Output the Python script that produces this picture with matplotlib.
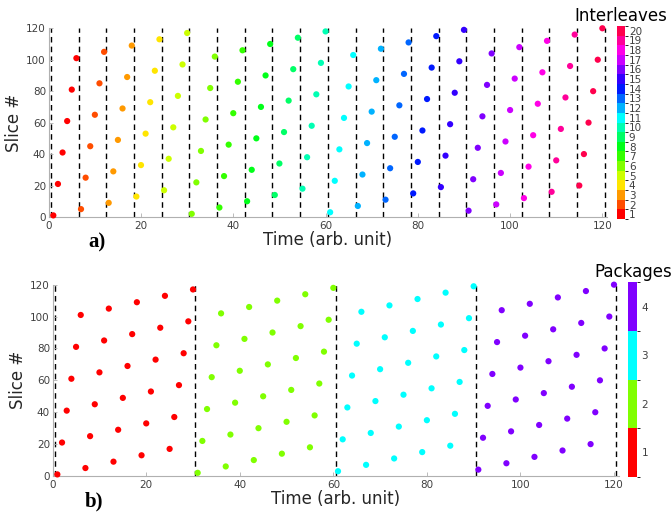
import colorsys
import numpy as np
import matplotlib
matplotlib.use("Agg")
import matplotlib.pyplot as plt
from matplotlib.colors import ListedColormap, BoundaryNorm
from matplotlib.cm import ScalarMappable

# slice numbers acquired in each interleave (6 consecutive time steps per interleave)
interleave_slices = [
    [1, 21, 41, 61, 81, 101],
    [5, 25, 45, 65, 85, 105],
    [9, 29, 49, 69, 89, 109],
    [13, 33, 53, 73, 93, 113],
    [17, 37, 57, 77, 97, 117],
    [2, 22, 42, 62, 82, 102],
    [6, 26, 46, 66, 86, 106],
    [10, 30, 50, 70, 90, 110],
    [14, 34, 54, 74, 94, 114],
    [18, 38, 58, 78, 98, 118],
    [3, 23, 43, 63, 83, 103],
    [7, 27, 47, 67, 87, 107],
    [11, 31, 51, 71, 91, 111],
    [15, 35, 55, 75, 95, 115],
    [19, 39, 59, 79, 99, 119],
    [4, 24, 44, 64, 84, 104],
    [8, 28, 48, 68, 88, 108],
    [12, 32, 52, 72, 92, 112],
    [16, 36, 56, 76, 96, 116],
    [20, 40, 60, 80, 100, 120],
]
n_interleaves = 20
n_packages = 4
interleave_edges = [0.5, 6.5, 12.5, 18.5, 24.5, 30.5, 36.5, 42.5, 48.5, 54.5, 60.5,
                    66.5, 72.5, 78.5, 84.5, 90.5, 96.5, 102.5, 108.5, 114.5, 120.5]
package_edges = [0.5, 30.5, 60.5, 90.5, 120.5]

slices = np.array(interleave_slices).ravel()
time = np.arange(1, len(slices) + 1)
interleave = np.repeat(np.arange(1, n_interleaves + 1), 6)
package = (interleave - 1) // 5 + 1

def hsv_colors(n):
    return [colorsys.hsv_to_rgb(i / n, 1, 1) for i in range(n)]

cmap_a = ListedColormap(hsv_colors(n_interleaves))
norm_a = BoundaryNorm(np.arange(0.5, n_interleaves + 1), n_interleaves)
cmap_b = ListedColormap(hsv_colors(n_packages))
norm_b = BoundaryNorm(np.arange(0.5, n_packages + 1), n_packages)

TICK_C = "#404040"
LAB_C = "#262626"
SPINE_C = "#b0b0b0"

fig = plt.figure(figsize=(6.71, 5.16), dpi=100)
ax_a = fig.add_axes([0.0726, 0.5795, 0.832, 0.3657])
ax_b = fig.add_axes([0.0785, 0.0775, 0.8435, 0.3708])
cax_a = fig.add_axes([616.7 / 671, 1 - 219 / 516, 8 / 671, 193 / 516])
cax_b = fig.add_axes([628.3 / 671, 1 - 476.7 / 516, 9 / 671, 194.4 / 516])


def style(ax):
    ax.set_xlim(0, 121)
    ax.set_ylim(0, 120)
    ax.set_xticks([0, 20, 40, 60, 80, 100, 120])
    ax.set_yticks([0, 20, 40, 60, 80, 100, 120])
    for s in ["top", "right"]:
        ax.spines[s].set_visible(False)
    for s in ["left", "bottom"]:
        ax.spines[s].set_color(SPINE_C)
        ax.spines[s].set_linewidth(0.8)
    ax.tick_params(direction="in", length=3, width=0.6, color=SPINE_C,
                   labelsize=7.5, labelcolor=TICK_C)
    ax.tick_params(axis="x", pad=3)
    ax.tick_params(axis="y", pad=2)
    ax.set_xlabel("Time (arb. unit)", fontsize=12, color=LAB_C, labelpad=0)
    ax.set_ylabel("Slice #", fontsize=12, color=LAB_C, labelpad=2)


for ax, edges, cval, cmap, norm in [
    (ax_a, interleave_edges, interleave, cmap_a, norm_a),
    (ax_b, package_edges, package, cmap_b, norm_b),
]:
    for e in edges:
        ax.axvline(e, color="black", lw=1.0, ls=(0, (4, 3)), zorder=1)
    ax.scatter(time, slices, c=cval, cmap=cmap, norm=norm, s=20,
               edgecolors="none", zorder=3, clip_on=False)
    style(ax)

cb_a = fig.colorbar(ScalarMappable(norm=norm_a, cmap=cmap_a), cax=cax_a,
                    ticks=np.arange(1, n_interleaves + 1))
cb_b = fig.colorbar(ScalarMappable(norm=norm_b, cmap=cmap_b), cax=cax_b,
                    ticks=np.arange(1, n_packages + 1))
for cb in (cb_a, cb_b):
    cb.outline.set_visible(False)
    cb.ax.tick_params(length=0, pad=3, labelsize=7.5, labelcolor=TICK_C)

fig.text(621 / 671, 1 - 16 / 516, "Interleaves", fontsize=12, color="black",
         ha="center", va="center")
fig.text(633 / 671, 1 - 272 / 516, "Packages", fontsize=12, color="black",
         ha="center", va="center")

fig.text(97 / 671, 1 - 242 / 516, "a)", fontsize=15, fontweight="bold",
         family="Liberation Serif", ha="center", va="center")
fig.text(94 / 671, 1 - 501 / 516, "b)", fontsize=15, fontweight="bold",
         family="Liberation Serif", ha="center", va="center")

fig.savefig("out.png", dpi=100)
